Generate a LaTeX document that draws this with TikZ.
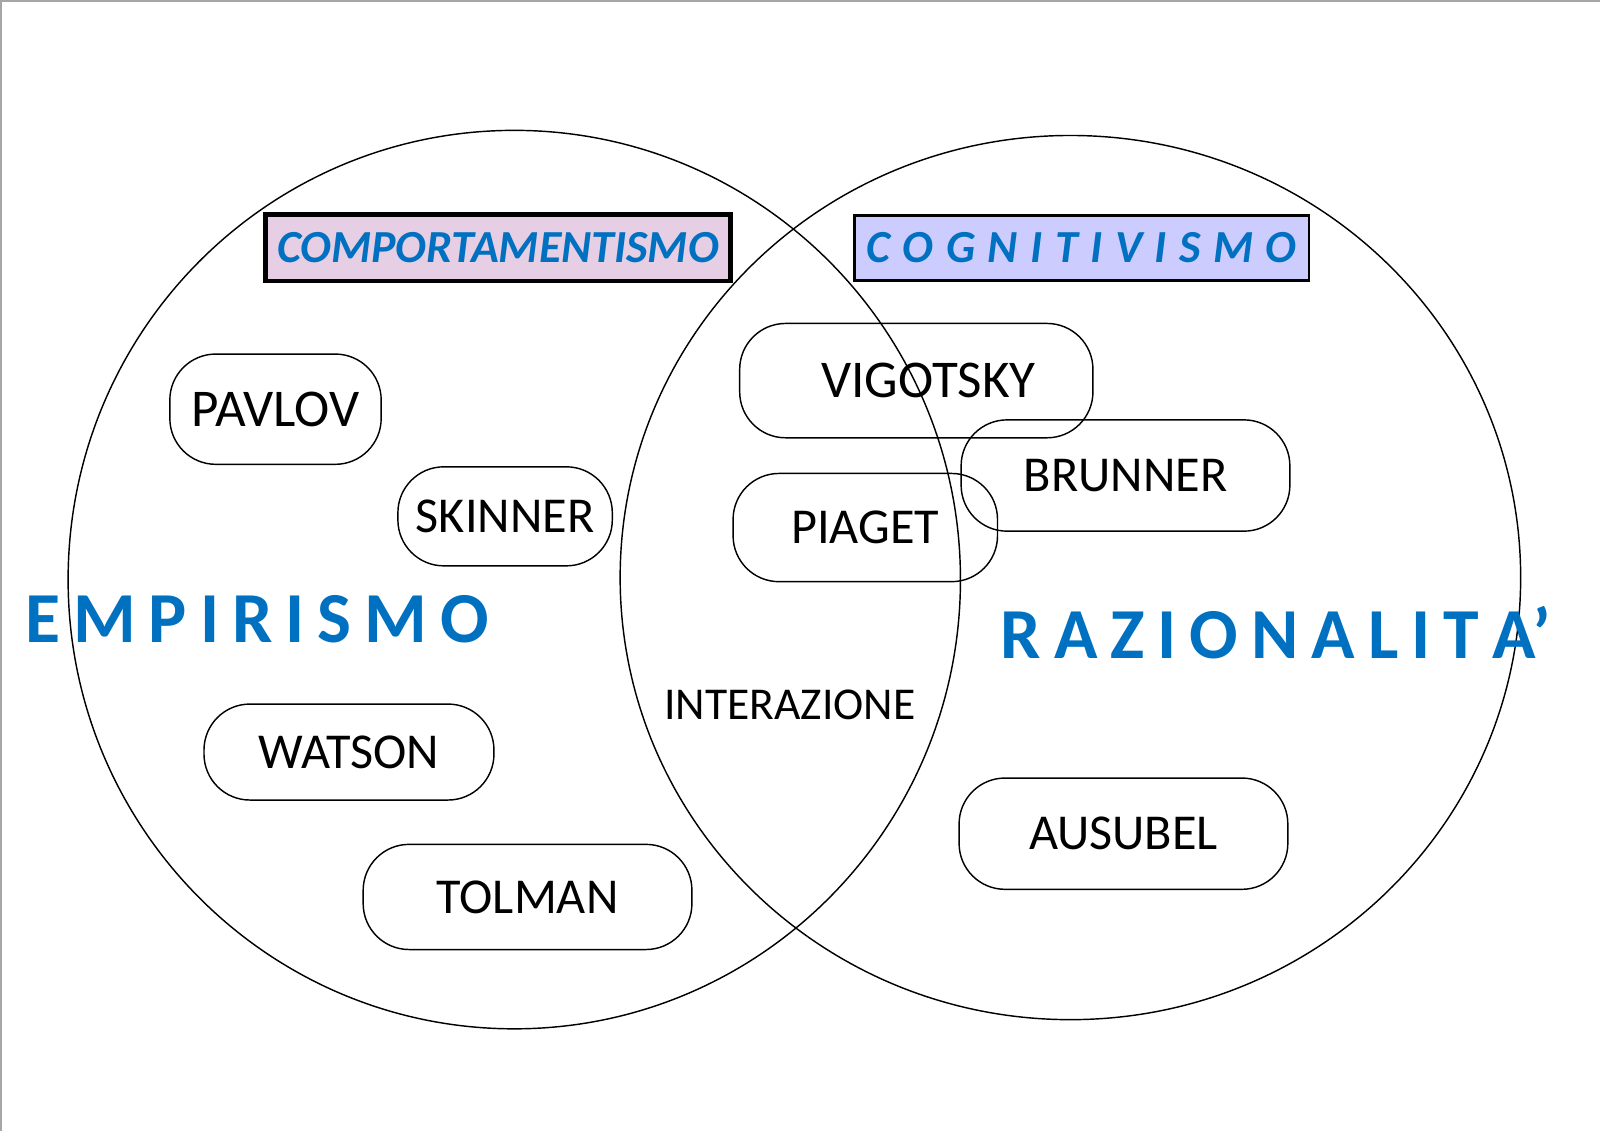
\documentclass[tikz,border=0pt]{standalone}
\usepackage{fontspec}
\setmainfont{Carlito}
\newfontfamily\schoolfont[WordSpace=1.2]{Carlito Bold Italic}
\newfontfamily\streamfont[WordSpace=0.8]{Carlito}
\usepackage{xcolor}
\usepackage{tikz}
\usetikzlibrary{positioning}
\definecolor{titleblue}{RGB}{0,112,192}
\definecolor{comppink}{RGB}{230,206,228}
\definecolor{cogviolet}{RGB}{204,204,255}

\begin{document}
\begin{tikzpicture}[x=0.01cm,y=-0.01cm,
    author/.style={draw, rounded corners=4.5mm, line width=0.4pt, inner sep=0pt, font=\fontsize{14}{16}\selectfont},
    bigauthor/.style={author, font=\fontsize{14.8}{17}\selectfont},
    school/.style={draw, line width=0.7pt, inner sep=0pt, font=\schoolfont\fontsize{12.8}{14}\selectfont, text=titleblue},
    stream/.style={inner sep=0pt, anchor=west, font=\streamfont\fontsize{20}{24}\selectfont\bfseries, text=titleblue}]
        \useasboundingbox (0,0) rectangle (1568,1108);
        % Frame
        \draw[black!35, line width=0.6pt] (1,1108) -- (1,1) -- (1568,1);

        % Two sets
        \draw[line width=0.4pt] (504,568) ellipse [x radius=4.37cm, y radius=4.40cm];
        \draw[line width=0.4pt] (1049,566) ellipse [x radius=4.41cm, y radius=4.33cm];

        % Schools
        \node[school, fill=comppink, line width=1.3pt, minimum width=4.55cm, minimum height=0.65cm] (comport) at (488,243) {COMPORTAMENTISMO};
        \node[school, fill=cogviolet, minimum width=4.45cm, minimum height=0.64cm] (cognit) at (1060,243) {C O G N I T I V I S M O};

        % Left: empirismo
        \node[bigauthor, minimum width=2.07cm, minimum height=1.08cm] (pavlov) at (270,401) {PAVLOV};
        \node[author, minimum width=2.10cm, minimum height=0.97cm] (skinner) at (495,506) {SKINNER};
        \node[author, minimum width=2.84cm, minimum height=0.94cm] (watson) at (342,737) {WATSON};
        \node[author, minimum width=3.22cm, minimum height=1.03cm] (tolman) at (517,879) {TOLMAN};
        \node[stream] (empir) at (24,607) {E M P I R I S M O};

        % Middle: interazione
        \node[bigauthor, minimum width=3.46cm, minimum height=1.12cm] (vigotsky) at (898,373) {\hspace{0.24cm}VIGOTSKY};
        \node[author, minimum width=2.59cm, minimum height=1.06cm] (piaget) at (848,517) {PIAGET};
        \node[inner sep=0pt, font=\fontsize{12.7}{14}\selectfont] (interaz) at (774,691) {INTERAZIONE};

        % Right: razionalita'
        \node[author, minimum width=3.22cm, minimum height=1.09cm] (brunner) at (1103,466) {BRUNNER};
        \node[author, minimum width=3.22cm, minimum height=1.09cm] (ausubel) at (1101,817) {AUSUBEL};
        \node[stream] (razion) at (980,620) {R A Z I O N A L I T A’};
\end{tikzpicture}
\end{document}
